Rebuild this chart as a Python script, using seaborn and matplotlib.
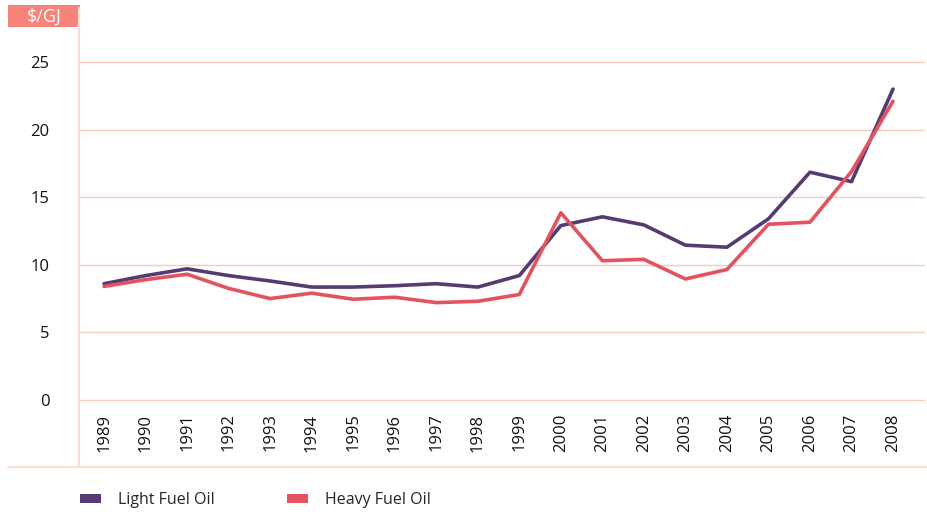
import pandas as pd
import matplotlib
matplotlib.use("Agg")
import matplotlib.pyplot as plt
import seaborn as sns
from matplotlib.patches import Rectangle, Patch
from matplotlib.lines import Line2D

# Data ($/GJ)
years = list(range(1989, 2009))
light_fuel_oil = [8.6, 9.2, 9.7, 9.2, 8.8, 8.35, 8.35, 8.45, 8.6, 8.35,
                  9.2, 12.9, 13.55, 12.95, 11.45, 11.3, 13.4, 16.85, 16.15, 23.0]
heavy_fuel_oil = [8.4, 8.9, 9.3, 8.25, 7.5, 7.9, 7.45, 7.6, 7.2, 7.3,
                  7.8, 13.85, 10.3, 10.4, 8.95, 9.65, 13.0, 13.15, 16.9, 22.1]
series_names = ["Light Fuel Oil", "Heavy Fuel Oil"]
colors = {"Light Fuel Oil": "#563a72", "Heavy Fuel Oil": "#e2535f"}
grid_color = "#f9c9bf"

df = pd.concat([
    pd.DataFrame({"year": years, "value": light_fuel_oil, "series": series_names[0]}),
    pd.DataFrame({"year": years, "value": heavy_fuel_oil, "series": series_names[1]}),
])

sns.set_style("white")
plt.rcParams["font.family"] = ["Open Sans", "DejaVu Sans"]

W, H = 928, 517
fig = plt.figure(figsize=(W / 100, H / 100), dpi=100)
ax = fig.add_axes([80 / W, (H - 401) / H, (925 - 80) / W, (401 - 8) / H])

sns.lineplot(data=df, x="year", y="value", hue="series", palette=colors,
             linewidth=2.6, ax=ax, legend=False)

ax.set_xlim(1988.42, 2008.77)
ax.set_ylim(-0.08, 29)
ax.set_yticks([0, 5, 10, 15, 20, 25])
ax.set_xticks(years)
ax.set_xticklabels([str(y) for y in years], rotation=90, fontsize=12, color="#111111")
ax.tick_params(axis="y", length=0, pad=22, labelsize=12, labelcolor="#111111")
ax.tick_params(axis="x", length=0, pad=9)
for lbl in ax.get_yticklabels():
    lbl.set_horizontalalignment("right")
ax.set_xlabel("")
ax.set_ylabel("")
ax.set_axisbelow(True)
ax.yaxis.grid(True, color=grid_color, linewidth=1)
ax.xaxis.grid(False)
for s in ["top", "right", "bottom", "left"]:
    ax.spines[s].set_visible(False)

# decorative frame lines
fig.add_artist(Line2D([79.5 / W, 79.5 / W], [1 - 8 / H, 1 - 467 / H],
                      color="#fbddd5", linewidth=1.6, transform=fig.transFigure))
fig.add_artist(Line2D([8 / W, 1.0], [1 - 467 / H, 1 - 467 / H],
                      color="#fbddd5", linewidth=1.6, transform=fig.transFigure))

# unit box
fig.add_artist(Rectangle((8 / W, 1 - 27 / H), 72 / W, 22 / H,
                         transform=fig.transFigure, color="#f5837a", lw=0))
fig.text(44 / W, 1 - 16.5 / H, "$/GJ", color="white", fontsize=13,
         ha="center", va="center")

# legend
handles = [Patch(facecolor=colors[n], edgecolor="none") for n in series_names]
fig.legend(handles, series_names, loc="center left",
           bbox_to_anchor=(80 / W, 1 - 500 / H), ncol=2, frameon=False,
           borderaxespad=0, borderpad=0,
           handlelength=1.3, handleheight=0.5, handletextpad=1.1,
           columnspacing=4.5, prop={"size": 11.5})

fig.savefig("out.png", dpi=100)
